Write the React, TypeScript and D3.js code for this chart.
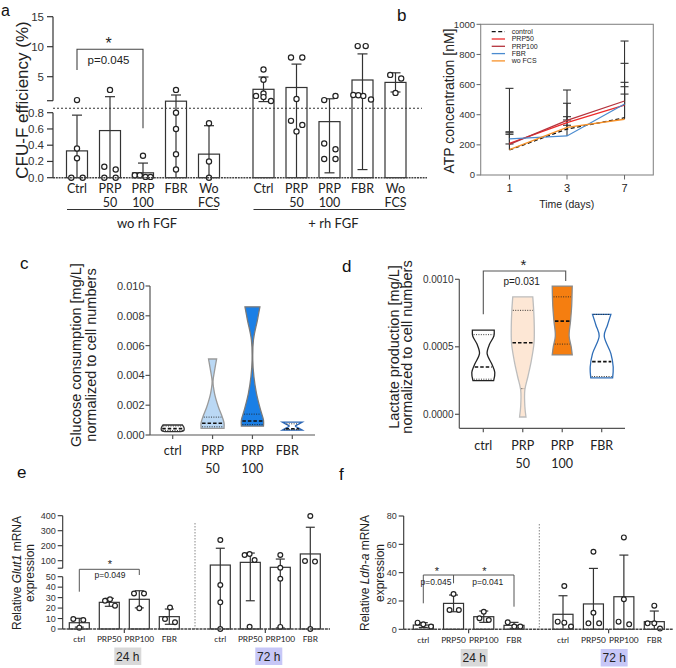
import React from "react";
import * as d3 from "d3";

const ARIAL = "'Liberation Sans', Arial, Helvetica, sans-serif";
const CALI = "Lato, 'Open Sans', sans-serif";
const INK = "#333";

// ---------------- panel a data ----------------
const aCats = ["Ctrl", "PRP50", "PRP100", "FBR", "WoFCS"];
const aCatLines = [["Ctrl"], ["PRP", "50"], ["PRP", "100"], ["FBR"], ["Wo", "FCS"]];
const aGroups = ["wo rh FGF", "+ rh FGF"];
const aLowTicks = [0, 0.2, 0.4, 0.6, 0.8];
const aUpTicks = [5, 10, 15];
const aWoMean = [0.33, 0.58, 0.06, 0.92, 0.29];
const aWoSD = [0.44, 1.09, 0.12, 1.03, 0.35];
const aWoDots = [[0, 0.24, 0.36, 0, 1.1], [0.135, 0.1, 0, 0, 2.8], [0.03, 0.03, 0.01, 0.01, 0.27], [0.8, 0.6, 0.29, 0.1, 2.8], [0.67, 0.2, 0]];
const aWoJitter = [[-5.7, 0, 0, 5.7, 0], [-5.7, 5.7, -5.7, 5.7, 0], [-8.2, -3.2, 2.5, 7.5, 0], [0, 0, 0, 0, 0], [0, 0, 0]];
const aRhMean = [2.9, 3.2, 0.69, 4.45, 4.05];
const aRhSD = [2.05, 3.9, 0.63, 4.35, 1.6];
const aRhDots = [[6.2, 4.5, 2.2, 1.8, 1.6, 0.95], [8.2, 8.2, 1.28, 0.7, 0.65, 0.57], [1.1, 1.8, 0.42, 0.35, 0.23, 0.23], [10.1, 10.1, 1.95, 1.9, 1.8, 1.2], [5.3, 4.7, 2.3]];
const aRhJitter = [[0, 0, 0, -7.5, 0, 7.5], [-5.5, 5.8, 0, -5.5, 5.8, 0], [-5.3, 6, -5.3, 6, -5.3, 6], [-4.8, 3.2, -9.2, -4.2, 0.8, 8.5], [-5.3, 5.7, 0]];

// ---------------- panel b data ----------------
const bDays = ["1", "3", "7"];
const bSeries = ["control", "PRP50", "PRP100", "FBR", "wo FCS"];
const bControl = [166, 305, 380];
const bPRP50 = [210, 347, 464];
const bPRP100 = [203, 362, 491];
const bFBR = [240, 259, 471];
const bWoFCS = [168, 316, 370];
const bControlUp = [270, 387, 537];
const bPRP50Up = [287, 476, 615];
const bPRP100Up = [575, 564, 889];
const bFBRUp = [280, 365, 741];
const bWoFCSUp = [206, 330, 586];
const bTicks = [0, 200, 400, 600, 800, 1000];

// ---------------- panel c / d data ----------------
const vCats = ["ctrl", "PRP50", "PRP100", "FBR"];
const vCatLines = [["ctrl"], ["PRP", "50"], ["PRP", "100"], ["FBR"]];
const cTicks = [0, 0.002, 0.004, 0.006, 0.008, 0.01];
const cCtrl = [[0.00022, 0.7], [0.0003, 0.97], [0.00042, 1.0], [0.00055, 0.95], [0.00067, 0.85]];
const cPRP50 = [[0.00045, 1.0], [0.0008, 1.0], [0.0012, 0.85], [0.0019, 0.5], [0.0028, 0.17], [0.0036, 0.04], [0.0043, 0.17], [0.0051, 0.35]];
const cPRP100 = [[0.0006, 0.96], [0.001, 0.96], [0.0017, 0.7], [0.0028, 0.35], [0.0039, 0.13], [0.005, 0.03], [0.0064, 0.09], [0.0077, 0.43], [0.0086, 0.65]];
const cFBR = [[0.00033, 0.87], [0.00045, 0.6], [0.0006, 0.26], [0.00075, 0.6], [0.00087, 0.87]];
const cMedian = [0.00043, 0.00079, 0.00094, 0.00042];
const cQuart = [[0.0003, 0.0006], [0.00055, 0.0012], [0.0007, 0.0014], [0.00036, 0.00075]];
const dTicks = [0, 0.0005, 0.001];
const dCtrl = [[0.00025, 0.9], [0.00031, 1.0], [0.00037, 0.75], [0.00045, 0.33], [0.00052, 0.55], [0.00058, 0.92], [0.000624, 0.95]];
const dPRP50 = [[-0.00002, 0.28], [0.00006, 0.18], [0.00018, 0.18], [0.00028, 0.45], [0.0004, 0.75], [0.00053, 0.98], [0.00065, 1.0], [0.00077, 0.95], [0.00087, 0.87]];
const dPRP100 = [[0.00044, 0.87], [0.0005, 0.78], [0.00058, 0.6], [0.00069, 0.72], [0.0008, 0.82], [0.00095, 0.87]];
const dFBR = [[0.00027, 0.95], [0.00035, 1.0], [0.00045, 0.8], [0.00058, 0.22], [0.00066, 0.5], [0.00074, 0.8]];
const dMedian = [0.00035, 0.00053, 0.00069, 0.00039];
const dQuart = [[0.00026, 0.00059], [0.00019, 0.00077], [0.00052, 0.00087], [0.00028, 0.00074]];

// ---------------- panel e / f data ----------------
const qCats = ["ctrl", "PRP50", "PRP100", "FBR"];
const qTimes = ["24 h", "72 h"];
const eLowTicks = [0, 10, 20, 30, 40, 50];
const eUpTicks = [100, 200, 300, 400];
const e24Mean = [6, 25.5, 28.4, 11.8];
const e24SD = [4.2, 3.8, 8.2, 7.3];
const e24Dots = [[9.6, 8.6, 1.3], [27, 28.4, 22.3], [34, 34, 19.8], [20.6, 9.5, 6.4]];
const e24Jitter = [[-6, 4, 0], [-4.3, 0.7, 5.7], [-5.3, 4.7, 0], [0.7, -4.3, 5.7]];
const e72Mean = [71, 89, 56, 145];
const e72SD = [112, 62, 55, 178];
const e72Dots = [[238, 42, 25.5, 0], [138, 145, 105, 2.2], [138, 53, 48, 2], [398, 98, 94, 0]];
const e72Jitter = [[0, 0, 0, 0], [-5.7, -0.7, 4.3, -0.7], [0, 0, 0, 0], [0, -5.3, 4.7, 0]];
const fTicks = [0, 20, 40, 60, 80];
const f24Mean = [3.0, 18.3, 8.9, 2.8];
const f24SD = [1.7, 5.9, 4.0, 2.1];
const f24Dots = [[4.7, 3.5, 1.9], [24.9, 13.6, 13.6], [12.4, 7.8, 6.6], [4.9, 1.9, 1.9]];
const f24Jitter = [[-5.7, 0, 7.7], [0, -4, 5.3], [0, -4.3, 5], [-6.3, 0.3, 6.3]];
const f72Mean = [10.6, 17.9, 23, 5.4];
const f72SD = [13.1, 25.1, 29.4, 7.5];
const f72Dots = [[30.6, 5.4, 4.7, 1.9], [54.8, 11.7, 4.2, 4.2], [64.9, 21.2, 5.4, 3.5], [16.7, 4.2, 4.2, 0.5]];
const f72Jitter = [[1.3, -5.3, 1.3, 8], [0, 0, -5, 5.7], [0, 0, -5.3, 5.3], [0, -6.7, 0, 5.7]];

// ---------------- shared pieces ----------------
type YFn = (v: number) => number;

function BarDots(props: {
  x: number; mean: number; sd: number; dots: number[]; jit: number[];
  y: YFn; base: number; bw: number; cap: number; r: number;
}) {
  const { x, mean, sd, dots, jit, y, base, bw, cap, r } = props;
  const top = y(mean);
  const hi = mean + sd;
  const loRaw = mean - sd;
  const lo = Math.max(0, loRaw);
  return (
    <g>
      <rect x={x - bw / 2} y={top} width={bw} height={base - top} fill="white" stroke={INK} strokeWidth={1.2} />
      <line x1={x} x2={x} y1={y(hi)} y2={y(lo)} stroke={INK} strokeWidth={1.2} />
      <line x1={x - cap / 2} x2={x + cap / 2} y1={y(hi)} y2={y(hi)} stroke={INK} strokeWidth={1.2} />
      {loRaw > 0 && <line x1={x - cap / 2} x2={x + cap / 2} y1={y(lo)} y2={y(lo)} stroke={INK} strokeWidth={1.2} />}
      {dots.map((d, i) => (
        <circle key={i} cx={x + jit[i]} cy={y(d)} r={r} fill="white" stroke="#222" strokeWidth={1.2} />
      ))}
    </g>
  );
}

function Violin(props: {
  cx: number; y: YFn; profile: number[][]; maxW: number; fill: string; stroke: string;
  median: number; quart: number[];
}) {
  const { cx, y, profile, maxW, fill, stroke, median, quart } = props;
  const wAt = d3.scaleLinear().domain(profile.map(p => p[0])).range(profile.map(p => p[1])).clamp(true);
  const area = d3.area<number[]>()
    .y(p => y(p[0]))
    .x0(p => cx - maxW * p[1])
    .x1(p => cx + maxW * p[1])
    .curve(d3.curveCatmullRom.alpha(0.5));
  const hl = (v: number) => maxW * wAt(v) - 1;
  return (
    <g>
      <path d={area(profile) || ""} fill={fill} stroke={stroke} strokeWidth={1.3} />
      {quart.map((q, i) => (
        <line key={i} x1={cx - hl(q)} x2={cx + hl(q)} y1={y(q)} y2={y(q)} stroke="#222" strokeWidth={0.9} strokeDasharray="1,1.4" />
      ))}
      <line x1={cx - hl(median)} x2={cx + hl(median)} y1={y(median)} y2={y(median)} stroke="#111" strokeWidth={1.6} strokeDasharray="3.5,2" />
    </g>
  );
}

function RotLabel(props: { x: number; y: number; size: number; children: React.ReactNode; family?: string }) {
  return (
    <text transform={`translate(${props.x},${props.y}) rotate(-90)`} textAnchor="middle" fontSize={props.size}
      fontFamily={props.family || ARIAL} fill="#222">{props.children}</text>
  );
}

function PanelLetter(props: { x: number; y: number; t: string; size?: number }) {
  return <text x={props.x} y={props.y} fontSize={props.size || 17} fontFamily={ARIAL} fill="#111">{props.t}</text>;
}

// ---------------- panel a ----------------
function PanelA() {
  const yLow = d3.scaleLinear().domain([0, 0.8]).range([177.7, 112.7]);
  const yUp = d3.scaleLinear().domain([0, 15]).range([106.7, 16.7]);
  const yA: YFn = v => (v <= 0.85 ? yLow(v) : yUp(v));
  const xWo = d3.scalePoint<string>().domain(aCats).range([77, 209]);
  const xRh = d3.scalePoint<string>().domain(aCats).range([263.5, 395.5]);
  const ax = 53;
  const base = yLow(0);
  const fmt = d3.format(".1f");
  const groups = [
    { x: xWo, mean: aWoMean, sd: aWoSD, dots: aWoDots, jit: aWoJitter },
    { x: xRh, mean: aRhMean, sd: aRhSD, dots: aRhDots, jit: aRhJitter },
  ];
  return (
    <g>
      <PanelLetter x={1} y={15.5} t="a" size={16} />
      <RotLabel x={28} y={100} size={17}>CFU-F efficiency (%)</RotLabel>
      <line x1={ax} x2={ax} y1={yUp(1)} y2={yUp(15)} stroke={INK} strokeWidth={1.2} />
      {[1, ...aUpTicks].map(t => (
        <line key={t} x1={ax - 6} x2={ax} y1={yUp(t)} y2={yUp(t)} stroke={INK} strokeWidth={1.2} />
      ))}
      {aUpTicks.map(t => (
        <text key={t} x={ax - 9} y={yUp(t) + 4} textAnchor="end" fontSize={11.5} fontFamily={ARIAL} fill="#333">{t}</text>
      ))}
      <line x1={ax} x2={ax} y1={yLow(0)} y2={yLow(0.8)} stroke={INK} strokeWidth={1.2} />
      {aLowTicks.map(t => (
        <g key={t}>
          <line x1={ax - 6} x2={ax} y1={yLow(t)} y2={yLow(t)} stroke={INK} strokeWidth={1.2} />
          <text x={ax - 9} y={yLow(t) + 4} textAnchor="end" fontSize={11.5} fontFamily={ARIAL} fill="#333">{fmt(t)}</text>
        </g>
      ))}
      {groups.map((g, gi) => (
        <g key={gi}>
          {aCats.map((c, i) => (
            <BarDots key={c} x={g.x(c)!} mean={g.mean[i]} sd={g.sd[i]} dots={g.dots[i]} jit={g.jit[i]}
              y={yA} base={base} bw={21} cap={10} r={2.6} />
          ))}
          {aCats.map((c, i) => aCatLines[i].map((l, li) => (
            <text key={c + li} x={g.x(c)!} y={192.5 + li * 14} textAnchor="middle" fontSize={12.5} fontFamily={CALI} fill="#222">{l}</text>
          )))}
          <line x1={g.x(aCats[0])! - 10} x2={g.x(aCats[4])! + 9} y1={209.5} y2={209.5} stroke="#333" strokeWidth={1.2} />
          <text x={(g.x(aCats[0])! + g.x(aCats[4])!) / 2 + 4} y={227.5} textAnchor="middle" fontSize={13} fontFamily={CALI} fill="#222">{aGroups[gi]}</text>
        </g>
      ))}
      <line x1={ax} x2={427} y1={base} y2={base} stroke="#444" strokeWidth={1.6} strokeDasharray="2,0.8" />
      <line x1={ax} x2={422} y1={108.3} y2={108.3} stroke="#333" strokeWidth={1.1} strokeDasharray="2,2" />
      <path d={`M${xWo("Ctrl")},70 V49.3 H${xWo("PRP100")} V128.3`} fill="none" stroke="#444" strokeWidth={1.1} />
      <text x={108.5} y={49} textAnchor="middle" fontSize={16} fontFamily={ARIAL} fill="#222">*</text>
      <text x={108.5} y={64} textAnchor="middle" fontSize={11.5} fontFamily={ARIAL} fill="#222">p=0.045</text>
    </g>
  );
}

// ---------------- panel b ----------------
function PanelB() {
  const y = d3.scaleLinear().domain([0, 1000]).range([175, 24.3]);
  const x = d3.scalePoint<string>().domain(bDays).range([480.7, 653.3]).padding(0.5);
  const means = [bControl, bPRP50, bPRP100, bFBR, bWoFCS];
  const ups = [bControlUp, bPRP50Up, bPRP100Up, bFBRUp, bWoFCSUp];
  const colors = ["#111", "#ee2a2a", "#b5333d", "#4a8bd0", "#f7922a"];
  const dashes = ["4,2.5", "", "", "", ""];
  const line = d3.line<number>().x((_, i) => x(bDays[i])!).y(v => y(v));
  return (
    <g>
      <PanelLetter x={397} y={21} t="b" />
      <rect x={480.7} y={24.3} width={172.6} height={150.7} fill="none" stroke="#888" strokeWidth={1.1} />
      {bTicks.map(t => (
        <g key={t}>
          <line x1={476.5} x2={480.7} y1={y(t)} y2={y(t)} stroke="#666" strokeWidth={1} />
          <text x={475} y={y(t) + 3.3} textAnchor="end" fontSize={9.5} fontFamily={ARIAL} fill="#333">{t}</text>
        </g>
      ))}
      {bDays.map(d => (
        <g key={d}>
          <line x1={x(d)} x2={x(d)} y1={175} y2={179.5} stroke="#666" strokeWidth={1} />
          <text x={x(d)} y={192} textAnchor="middle" fontSize={11} fontFamily={ARIAL} fill="#222">{d}</text>
        </g>
      ))}
      <text x={566.7} y={208} textAnchor="middle" fontSize={10.5} fontFamily={ARIAL} fill="#222">Time (days)</text>
      <RotLabel x={453.5} y={101} size={14}>ATP concentration [nM]</RotLabel>
      {means.map((m, si) => m.map((v, di) => (
        <g key={si + "-" + di}>
          <line x1={x(bDays[di])} x2={x(bDays[di])} y1={y(v)} y2={y(ups[si][di])} stroke="#333" strokeWidth={1.1} />
          <line x1={x(bDays[di])! - 4} x2={x(bDays[di])! + 4} y1={y(ups[si][di])} y2={y(ups[si][di])} stroke="#333" strokeWidth={1.1} />
        </g>
      )))}
      {means.map((m, si) => (
        <path key={si} d={line(m) || ""} fill="none" stroke={colors[si]} strokeWidth={1.3} strokeDasharray={dashes[si]} />
      ))}
      {bSeries.map((s, i) => (
        <g key={s}>
          <line x1={491.7} x2={505} y1={31.7 + i * 7.3} y2={31.7 + i * 7.3} stroke={colors[i]} strokeWidth={1.3} strokeDasharray={dashes[i]} />
          <text x={511.7} y={31.7 + i * 7.3 + 2.4} fontSize={7} fontFamily={ARIAL} fill="#222">{s}</text>
        </g>
      ))}
    </g>
  );
}

// ---------------- panel c ----------------
function PanelC() {
  const y = d3.scaleLinear().domain([0, 0.01]).range([435, 286]);
  const x = d3.scalePoint<string>().domain(vCats).range([172.7, 292.3]);
  const fmt = d3.format(".3f");
  const profiles = [cCtrl, cPRP50, cPRP100, cFBR];
  const fills = ["white", "#bad8f4", "#1a7fe6", "white"];
  const strokes = ["#333", "#9a9a9a", "#7a7a7a", "#2a66b5"];
  return (
    <g>
      <PanelLetter x={20} y={269} t="c" />
      <RotLabel x={81} y={355} size={14.5}>Glucose consumption [mg/L]</RotLabel>
      <RotLabel x={96} y={355} size={14.5}>normalized to cell numbers</RotLabel>
      <line x1={150} x2={150} y1={y(0.01)} y2={y(0)} stroke="#555" strokeWidth={1.2} />
      <line x1={150} x2={315} y1={y(0)} y2={y(0)} stroke="#555" strokeWidth={1.2} />
      {cTicks.map(t => (
        <g key={t}>
          <line x1={145.5} x2={150} y1={y(t)} y2={y(t)} stroke="#555" strokeWidth={1.2} />
          <text x={144.5} y={y(t) + 4} textAnchor="end" fontSize={11} fontFamily={ARIAL} fill="#333">{fmt(t)}</text>
        </g>
      ))}
      {vCats.map((c, i) => (
        <g key={c}>
          <line x1={x(c)} x2={x(c)} y1={y(0)} y2={y(0) + 4} stroke="#555" strokeWidth={1.2} />
          {vCatLines[i].map((l, li) => (
            <text key={li} x={x(c)! + (i === 3 ? -5 : 0)} y={454.5 + li * 18} textAnchor="middle" fontSize={12.5} fontFamily={CALI} fill="#222">{l}</text>
          ))}
          <Violin cx={x(c)!} y={y} profile={profiles[i]} maxW={11.5} fill={fills[i]} stroke={strokes[i]}
            median={cMedian[i]} quart={cQuart[i]} />
        </g>
      ))}
    </g>
  );
}

// ---------------- panel d ----------------
function PanelD() {
  const y = d3.scaleLinear().domain([0, 0.001]).range([414.3, 279.3]);
  const x = d3.scalePoint<string>().domain(vCats).range([483.3, 601.7]);
  const fmt = d3.format(".4f");
  const axisY = 428.3;
  const profiles = [dCtrl, dPRP50, dPRP100, dFBR];
  const fills = ["white", "#fde7d5", "#f57e10", "white"];
  const strokes = ["#222", "#bdbdbd", "#8a8a8a", "#2e6db7"];
  return (
    <g>
      <PanelLetter x={342} y={272} t="d" />
      <RotLabel x={399} y={347} size={14.5}>Lactate production [mg/L]</RotLabel>
      <RotLabel x={411.5} y={347} size={14.5}>normalized to cell numbers</RotLabel>
      <line x1={459.3} x2={459.3} y1={y(0.001)} y2={axisY} stroke="#555" strokeWidth={1.2} />
      <line x1={459.3} x2={625} y1={axisY} y2={axisY} stroke="#555" strokeWidth={1.2} />
      {dTicks.map(t => (
        <g key={t}>
          <line x1={455} x2={459.3} y1={y(t)} y2={y(t)} stroke="#555" strokeWidth={1.2} />
          <text x={453.5} y={y(t) + 3.6} textAnchor="end" fontSize={10} fontFamily={ARIAL} fill="#333">{fmt(t)}</text>
        </g>
      ))}
      {vCats.map((c, i) => (
        <g key={c}>
          <line x1={x(c)} x2={x(c)} y1={axisY} y2={axisY + 4} stroke="#555" strokeWidth={1.2} />
          {vCatLines[i].map((l, li) => (
            <text key={li} x={x(c)!} y={449.5 + li * 18} textAnchor="middle" fontSize={12.5} fontFamily={CALI} fill="#222">{l}</text>
          ))}
          <Violin cx={x(c)!} y={y} profile={profiles[i]} maxW={11.5} fill={fills[i]} stroke={strokes[i]}
            median={dMedian[i]} quart={dQuart[i]} />
        </g>
      ))}
      <path d={`M${x("ctrl")},314.3 V271 H565.7 V281`} fill="none" stroke="#555" strokeWidth={1.1} />
      <text x={523.3} y={270} textAnchor="middle" fontSize={15} fontFamily={ARIAL} fill="#222">*</text>
      <text x={521.7} y={284.5} textAnchor="middle" fontSize={10} fontFamily={ARIAL} fill="#222">p=0.031</text>
    </g>
  );
}

// ---------------- panel e ----------------
function TimeBoxes(props: { centers: number[]; y: number }) {
  const fills = ["#d9d9d9", "#c7c7f7"];
  return (
    <g>
      {qTimes.map((t, i) => (
        <g key={t}>
          <rect x={props.centers[i] - 13.5} y={props.y} width={27} height={17.5} fill={fills[i]} />
          <text x={props.centers[i]} y={props.y + 13.3} textAnchor="middle" fontSize={12} fontFamily={ARIAL} fill="#222">{t}</text>
        </g>
      ))}
    </g>
  );
}

function PanelE() {
  const yLow = d3.scaleLinear().domain([0, 50]).range([629, 576.7]);
  const yUp = d3.scaleLinear().domain([0, 400]).range([575.7, 515.7]);
  const yE: YFn = v => (v <= 50 ? yLow(v) : yUp(v));
  const x24 = d3.scalePoint<string>().domain(qCats).range([79.3, 169.3]);
  const x72 = d3.scalePoint<string>().domain(qCats).range([220.3, 310.3]);
  const ax = 62.7;
  const base = yLow(0);
  const sets = [
    { x: x24, mean: e24Mean, sd: e24SD, dots: e24Dots, jit: e24Jitter },
    { x: x72, mean: e72Mean, sd: e72SD, dots: e72Dots, jit: e72Jitter },
  ];
  const centers = sets.map(s => (s.x(qCats[0])! + s.x(qCats[3])!) / 2);
  return (
    <g>
      <PanelLetter x={17} y={478} t="e" />
      <RotLabel x={21} y={573} size={12}>Relative <tspan fontStyle="italic">Glut1</tspan> mRNA</RotLabel>
      <RotLabel x={34} y={573} size={12}>expression</RotLabel>
      <line x1={ax} x2={ax} y1={yUp(50)} y2={yUp(400)} stroke={INK} strokeWidth={1.1} />
      {[50, ...eUpTicks].map(t => (
        <line key={t} x1={ax - 5} x2={ax} y1={yUp(t)} y2={yUp(t)} stroke={INK} strokeWidth={1.1} />
      ))}
      {eUpTicks.map(t => (
        <text key={t} x={ax - 7} y={yUp(t) + 3.2} textAnchor="end" fontSize={9} fontFamily={ARIAL} fill="#333">{t}</text>
      ))}
      <line x1={ax} x2={ax} y1={yLow(0)} y2={yLow(50)} stroke={INK} strokeWidth={1.1} />
      {eLowTicks.map(t => (
        <g key={t}>
          <line x1={ax - 5} x2={ax} y1={yLow(t)} y2={yLow(t)} stroke={INK} strokeWidth={1.1} />
          <text x={ax - 7} y={yLow(t) + 3.2} textAnchor="end" fontSize={9} fontFamily={ARIAL} fill="#333">{t}</text>
        </g>
      ))}
      <line x1={195} x2={195} y1={523} y2={629} stroke="#888" strokeWidth={1} strokeDasharray="1.5,1.5" />
      {sets.map((s, si) => (
        <g key={si}>
          {qCats.map((c, i) => (
            <BarDots key={c} x={s.x(c)!} mean={s.mean[i]} sd={s.sd[i]} dots={s.dots[i]} jit={s.jit[i]}
              y={yE} base={base} bw={20} cap={9} r={2.4} />
          ))}
          {qCats.map(c => (
            <text key={c} x={s.x(c)!} y={642} textAnchor="middle" fontSize={8.3} fontFamily={CALI} fill="#222">{c}</text>
          ))}
          <line x1={centers[si]} x2={centers[si]} y1={base} y2={base + 4} stroke={INK} strokeWidth={1.1} />
        </g>
      ))}
      <line x1={ax} x2={330} y1={base} y2={base} stroke="#444" strokeWidth={1.4} strokeDasharray="3,0.8" />
      <TimeBoxes centers={centers.map(c => c + 3.5)} y={647.5} />
      <path d={`M${x24("ctrl")},591.7 V569.3 H${x24("PRP100")} V575`} fill="none" stroke="#555" strokeWidth={1} />
      <text x={110} y={568} textAnchor="middle" fontSize={11} fontFamily={ARIAL} fill="#222">*</text>
      <text x={110} y={578} textAnchor="middle" fontSize={8.5} fontFamily={ARIAL} fill="#222">p=0.049</text>
    </g>
  );
}

// ---------------- panel f ----------------
function PanelF() {
  const y = d3.scaleLinear().domain([0, 80]).range([629.3, 516]);
  const x24 = d3.scalePoint<string>().domain(qCats).range([423.3, 514]);
  const x72 = d3.scalePoint<string>().domain(qCats).range([563, 654.3]);
  const ax = 403.7;
  const base = y(0);
  const sets = [
    { x: x24, mean: f24Mean, sd: f24SD, dots: f24Dots, jit: f24Jitter },
    { x: x72, mean: f72Mean, sd: f72SD, dots: f72Dots, jit: f72Jitter },
  ];
  const centers = sets.map(s => (s.x(qCats[0])! + s.x(qCats[3])!) / 2);
  return (
    <g>
      <PanelLetter x={339} y={480} t="f" />
      <RotLabel x={368.5} y={573} size={12}>Relative <tspan fontStyle="italic">Ldh-a</tspan> mRNA</RotLabel>
      <RotLabel x={383.5} y={573} size={12}>expression</RotLabel>
      <line x1={ax} x2={ax} y1={y(0)} y2={y(80)} stroke={INK} strokeWidth={1.1} />
      {fTicks.map(t => (
        <g key={t}>
          <line x1={ax - 5} x2={ax} y1={y(t)} y2={y(t)} stroke={INK} strokeWidth={1.1} />
          <text x={ax - 7} y={y(t) + 3.2} textAnchor="end" fontSize={9} fontFamily={ARIAL} fill="#333">{t}</text>
        </g>
      ))}
      <line x1={539.3} x2={539.3} y1={524} y2={629} stroke="#888" strokeWidth={1} strokeDasharray="1.5,1.5" />
      {sets.map((s, si) => (
        <g key={si}>
          {qCats.map((c, i) => (
            <BarDots key={c} x={s.x(c)!} mean={s.mean[i]} sd={s.sd[i]} dots={s.dots[i]} jit={s.jit[i]}
              y={y} base={base} bw={20} cap={9} r={2.4} />
          ))}
          {qCats.map(c => (
            <text key={c} x={s.x(c)!} y={643} textAnchor="middle" fontSize={8.3} fontFamily={CALI} fill="#222">{c}</text>
          ))}
          <line x1={centers[si]} x2={centers[si]} y1={base} y2={base + 4} stroke={INK} strokeWidth={1.1} />
        </g>
      ))}
      <line x1={ax} x2={672.7} y1={base} y2={base} stroke="#444" strokeWidth={1.4} strokeDasharray="3,0.8" />
      <TimeBoxes centers={centers.map(c => c + 5.5)} y={649} />
      <path d={`M${x24("ctrl")},603.3 V575 H${x24("FBR")} V606.7`} fill="none" stroke="#555" strokeWidth={1} />
      <line x1={x24("PRP50")} x2={x24("PRP50")} y1={575} y2={583.3} stroke="#555" strokeWidth={1} />
      <text x={437} y={574.5} textAnchor="middle" fontSize={11} fontFamily={ARIAL} fill="#222">*</text>
      <text x={484.3} y={574.5} textAnchor="middle" fontSize={11} fontFamily={ARIAL} fill="#222">*</text>
      <text x={436} y={584.8} textAnchor="middle" fontSize={8.5} fontFamily={ARIAL} fill="#222">p=0.045</text>
      <text x={487.7} y={584.8} textAnchor="middle" fontSize={8.5} fontFamily={ARIAL} fill="#222">p=0.041</text>
    </g>
  );
}

export default function App() {
  return (
    <svg width={676} height={668} viewBox="0 0 676 668"
      style={{ position: "absolute", left: 0, top: 0, background: "white", display: "block" }}>
      <rect x={0} y={0} width={676} height={668} fill="white" />
      <PanelA />
      <PanelB />
      <PanelC />
      <PanelD />
      <PanelE />
      <PanelF />
    </svg>
  );
}
